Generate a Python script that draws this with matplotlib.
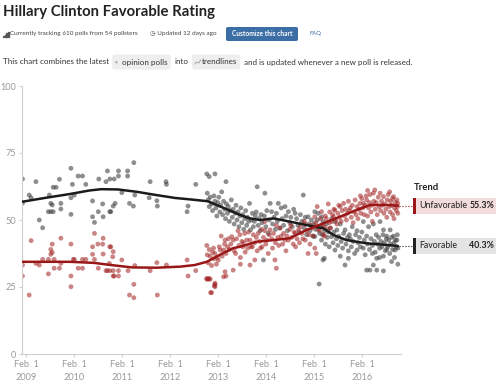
import matplotlib
matplotlib.use('Agg')
import matplotlib.pyplot as plt
import matplotlib.transforms as mtransforms
from matplotlib.patches import Rectangle, FancyBboxPatch
from matplotlib.lines import Line2D

plt.rcParams['font.family'] = ['Lato', 'DejaVu Sans']

# ---- data (decimal years, percent) ----
years = [2009, 2010, 2011, 2012, 2013, 2014, 2015, 2016]
tick_labels = ['Feb. 1\n%d' % y for y in years]
y_ticks = [0, 25, 50, 75, 100]

fav_trend = [(2009.0, 56.8), (2009.5, 58.3), (2010.0, 59.7), (2010.4, 61.0), (2010.65, 61.5),
             (2011.0, 61.4), (2011.4, 60.5), (2011.8, 59.3), (2012.2, 58.2), (2012.5, 57.7),
             (2012.87, 57.0), (2013.0, 56.0), (2013.2, 54.5), (2013.4, 53.0), (2013.54, 51.9),
             (2013.75, 50.6), (2013.96, 50.0), (2014.24, 50.6), (2014.58, 49.4), (2014.93, 48.1),
             (2015.28, 46.9), (2015.49, 44.4), (2015.76, 42.5), (2015.97, 41.9), (2016.18, 41.3),
             (2016.46, 40.9), (2016.83, 40.3)]
unfav_trend = [(2009.0, 34.4), (2009.5, 34.4), (2010.0, 34.4), (2010.5, 34.0), (2010.85, 33.2),
               (2011.3, 32.3), (2011.8, 32.2), (2012.3, 32.6), (2012.6, 33.2), (2012.85, 34.4),
               (2013.12, 37.0), (2013.4, 39.5), (2013.54, 40.0), (2013.89, 41.9), (2014.24, 42.5),
               (2014.58, 43.2), (2014.93, 46.3), (2015.28, 48.8), (2015.62, 51.2), (2015.97, 53.7),
               (2016.25, 55.6), (2016.67, 55.6), (2016.83, 55.3)]

fav_polls_early = [
    (2009.01, 65.3), (2009.29, 64.3), (2009.15, 59.3), (2009.19, 58.3), (2009.01, 56.3), (2009.36, 50.0),
    (2009.43, 47.1), (2009.57, 59.3), (2009.65, 62.2), (2009.71, 62.2), (2009.78, 65.2), (2009.6, 56.2),
    (2009.63, 55.6), (2009.55, 53.1), (2009.6, 53.1), (2009.65, 53.1), (2009.81, 56.2), (2009.81, 54.1),
    (2010.02, 69.3), (2010.05, 63.3), (2010.02, 58.3), (2010.09, 59.3), (2010.02, 52.1), (2010.17, 66.4),
    (2010.26, 66.4), (2010.33, 63.3), (2010.47, 57.1), (2010.47, 51.2), (2010.51, 49.1), (2010.59, 53.1),
    (2010.6, 65.3), (2010.68, 56.0), (2010.69, 51.2), (2010.78, 68.3), (2010.75, 64.3), (2010.83, 65.3),
    (2010.92, 65.3), (2010.83, 53.1), (2010.94, 56.2), (2011.01, 68.3), (2011.01, 66.4), (2011.2, 68.3),
    (2011.2, 66.4), (2011.33, 71.4), (2011.08, 60.2), (2011.35, 59.3), (2011.24, 56.2), (2011.32, 55.2),
    (2010.9, 55.2), (2010.85, 53.1), (2011.67, 64.3), (2011.65, 58.3), (2011.81, 57.2), (2011.82, 55.2),
    (2012.01, 63.3), (2012.0, 64.3), (2012.46, 55.2), (2012.44, 53.1), (2012.62, 63.3)]
fav_polls_2013_2014 = [
    (2012.85, 67.2), (2012.9, 66.2), (2013.02, 67.2), (2013.25, 64.3),
    (2012.86, 60.0), (2012.88, 57.5), (2012.9, 55.0), (2012.92, 58.5), (2012.95, 56.0), (2012.97, 53.5),
    (2013.0, 59.0), (2013.02, 57.0), (2013.04, 54.5), (2013.06, 51.5), (2013.08, 56.5), (2013.1, 58.5),
    (2013.12, 53.0), (2013.14, 55.5), (2013.16, 60.5), (2013.18, 52.0), (2013.2, 57.0), (2013.22, 54.0),
    (2013.24, 50.5), (2013.26, 56.0), (2013.28, 52.5), (2013.3, 55.0), (2013.32, 49.5), (2013.34, 53.5),
    (2013.36, 57.5), (2013.38, 51.0), (2013.4, 54.0), (2013.42, 48.5), (2013.44, 52.5), (2013.46, 55.5),
    (2013.48, 50.0), (2013.5, 53.0), (2013.52, 47.5), (2013.54, 51.5), (2013.56, 54.5), (2013.58, 49.0),
    (2013.6, 52.0), (2013.62, 46.5), (2013.64, 50.5), (2013.66, 53.5), (2013.68, 48.0), (2013.7, 51.0),
    (2013.72, 49.5), (2013.74, 56.2), (2013.76, 46.3), (2013.78, 50.0), (2013.8, 52.5), (2013.82, 47.5),
    (2013.84, 49.5), (2013.86, 51.5), (2013.88, 53.0), (2013.9, 62.4), (2013.92, 48.0), (2013.94, 50.5),
    (2013.96, 46.0), (2013.98, 52.0), (2014.0, 49.0),
    (2014.03, 35.1), (2014.05, 51.5), (2014.06, 60.0), (2014.08, 47.5), (2014.1, 53.5), (2014.13, 45.0),
    (2014.15, 50.0), (2014.17, 56.2), (2014.2, 53.1), (2014.22, 48.5), (2014.25, 51.0), (2014.28, 46.5),
    (2014.3, 52.5), (2014.32, 49.5), (2014.34, 56.2), (2014.37, 47.0), (2014.4, 54.5), (2014.42, 50.5),
    (2014.45, 48.0), (2014.48, 55.0), (2014.5, 51.5), (2014.53, 46.0), (2014.55, 53.1), (2014.58, 49.0),
    (2014.6, 51.0), (2014.63, 47.5), (2014.66, 54.0), (2014.69, 52.5), (2014.72, 50.5), (2014.75, 48.0),
    (2014.78, 45.5), (2014.8, 52.0), (2014.83, 49.5), (2014.86, 59.3), (2014.88, 47.0), (2014.9, 51.0),
    (2014.93, 44.5), (2014.96, 51.2), (2014.98, 48.5)]
fav_polls_2015_2016 = [
    (2015.0, 46.0), (2015.03, 50.0), (2015.06, 44.0), (2015.08, 48.5), (2015.1, 53.1), (2015.1, 43.8),
    (2015.12, 46.5), (2015.15, 50.0), (2015.17, 52.5), (2015.19, 26.1), (2015.2, 45.0), (2015.22, 47.5),
    (2015.24, 42.5), (2015.24, 51.2), (2015.26, 44.5), (2015.27, 49.4), (2015.27, 35.1), (2015.3, 35.7),
    (2015.3, 46.0), (2015.32, 41.0), (2015.34, 48.5), (2015.36, 43.5), (2015.38, 45.5), (2015.4, 40.0),
    (2015.42, 47.0), (2015.45, 50.5), (2015.45, 43.8), (2015.48, 41.5),
    (2015.5, 45.5), (2015.52, 49.4), (2015.52, 38.8), (2015.55, 43.0), (2015.56, 46.3), (2015.58, 40.5),
    (2015.6, 44.0), (2015.63, 48.5), (2015.63, 36.5), (2015.65, 42.0), (2015.68, 39.5), (2015.7, 45.0),
    (2015.73, 46.3), (2015.73, 33.2), (2015.75, 41.0), (2015.78, 43.5), (2015.8, 35.7), (2015.8, 38.5),
    (2015.82, 44.5), (2015.84, 43.0), (2015.86, 40.0), (2015.88, 47.5), (2015.9, 42.0), (2015.93, 37.5),
    (2015.95, 44.5), (2015.98, 46.0), (2015.98, 38.8), (2016.0, 41.5), (2016.03, 43.5), (2016.05, 40.0),
    (2016.08, 45.5), (2016.11, 49.4), (2016.11, 39.5), (2016.13, 42.5), (2016.15, 37.0), (2016.18, 31.3),
    (2016.18, 44.0), (2016.2, 41.0), (2016.22, 47.5), (2016.24, 39.0), (2016.25, 31.3), (2016.27, 43.0),
    (2016.3, 40.5), (2016.32, 48.5), (2016.32, 33.2), (2016.34, 42.0), (2016.36, 38.0), (2016.38, 44.5),
    (2016.39, 35.7), (2016.39, 31.3), (2016.41, 41.0), (2016.43, 43.5), (2016.45, 39.5), (2016.46, 49.4),
    (2016.48, 42.0), (2016.5, 40.0), (2016.52, 44.5), (2016.53, 46.3), (2016.53, 36.5), (2016.53, 31.0),
    (2016.55, 41.5), (2016.57, 38.5), (2016.59, 43.0), (2016.6, 44.0), (2016.62, 40.0), (2016.64, 42.5),
    (2016.66, 37.5), (2016.67, 46.3), (2016.68, 41.0), (2016.7, 43.5), (2016.72, 39.0), (2016.74, 44.0),
    (2016.75, 41.5), (2016.77, 38.8), (2016.78, 42.5), (2016.8, 40.0), (2016.81, 42.5), (2016.82, 44.5),
    (2016.83, 39.5), (2016.83, 33.5), (2016.76, 36.0), (2016.7, 34.5), (2016.6, 39.0), (2016.45, 36.0),
    (2016.3, 37.5)]

unfav_polls_early = [
    (2009.01, 33.2), (2009.01, 29.1), (2009.15, 22.0), (2009.19, 42.3), (2009.29, 33.8), (2009.36, 33.2),
    (2009.43, 35.3), (2009.55, 35.3), (2009.55, 29.9), (2009.6, 39.0), (2009.63, 37.9), (2009.6, 37.2),
    (2009.63, 41.0), (2009.67, 35.3), (2009.67, 32.0), (2009.78, 32.0), (2009.81, 43.2), (2009.81, 33.8),
    (2010.02, 41.0), (2010.02, 29.1), (2010.02, 25.1), (2010.07, 35.3), (2010.09, 35.3), (2010.17, 32.0),
    (2010.26, 35.3), (2010.26, 32.0), (2010.33, 35.3), (2010.47, 40.0), (2010.47, 37.2), (2010.51, 35.3),
    (2010.51, 45.0), (2010.58, 41.0), (2010.59, 32.0), (2010.69, 43.2), (2010.68, 41.0), (2010.69, 37.3),
    (2010.75, 31.1), (2010.78, 31.1), (2010.82, 33.8), (2010.83, 40.0), (2010.89, 36.3), (2010.92, 29.1),
    (2010.85, 40.0), (2010.9, 38.2), (2011.08, 35.1), (2010.83, 31.1), (2010.9, 31.1), (2011.01, 31.1),
    (2010.9, 29.1), (2011.01, 29.1), (2011.21, 31.1), (2011.35, 33.0), (2011.33, 26.0), (2011.24, 22.0),
    (2011.33, 21.0), (2011.67, 31.1), (2011.81, 34.1), (2011.82, 22.0), (2012.01, 33.2), (2012.44, 35.1),
    (2012.46, 29.1), (2012.62, 31.1), (2012.85, 27.9), (2012.88, 27.9), (2012.92, 27.9), (2012.93, 22.9),
    (2013.01, 25.4), (2013.02, 26.0), (2013.25, 29.1)]
unfav_polls_2013_2014 = [
    (2012.85, 40.5), (2012.86, 37.0), (2012.88, 34.0), (2012.9, 39.0), (2012.92, 36.5), (2012.95, 33.0),
    (2012.97, 38.0), (2012.99, 39.5), (2013.0, 35.5), (2013.02, 37.5), (2013.05, 33.5), (2013.07, 36.0),
    (2013.09, 35.0), (2013.11, 40.0), (2013.13, 38.8), (2013.15, 44.0), (2013.17, 36.5), (2013.2, 38.8),
    (2013.22, 41.0), (2013.23, 42.5), (2013.25, 37.5), (2013.28, 40.0), (2013.3, 43.0), (2013.32, 39.0),
    (2013.35, 41.0), (2013.37, 43.8), (2013.4, 42.5), (2013.42, 38.5), (2013.45, 37.5), (2013.47, 43.0),
    (2013.5, 46.0), (2013.52, 40.5), (2013.54, 44.5), (2013.55, 36.0), (2013.58, 42.0), (2013.6, 40.0),
    (2013.61, 41.5), (2013.64, 45.0), (2013.65, 38.0), (2013.68, 42.5), (2013.7, 39.5), (2013.72, 45.5),
    (2013.75, 42.5), (2013.77, 40.0), (2013.8, 40.0), (2013.82, 44.5), (2013.85, 41.5), (2013.88, 43.5),
    (2013.9, 38.5), (2013.92, 45.0), (2013.95, 42.0), (2013.97, 39.5), (2013.99, 46.5),
    (2012.85, 28.2), (2012.9, 28.2), (2013.02, 26.4), (2013.02, 25.1), (2012.95, 22.9), (2013.23, 30.7),
    (2013.2, 28.8), (2013.4, 31.3), (2013.75, 33.2), (2013.85, 35.1), (2013.55, 33.5),
    (2014.0, 40.0), (2014.03, 43.5), (2014.06, 49.4), (2014.06, 46.0), (2014.08, 41.0), (2014.1, 42.5),
    (2014.13, 37.5), (2014.15, 44.5), (2014.17, 46.3), (2014.2, 43.0), (2014.22, 39.5), (2014.24, 45.0),
    (2014.27, 35.1), (2014.28, 41.5), (2014.3, 48.0), (2014.3, 32.0), (2014.33, 43.5), (2014.35, 40.5),
    (2014.38, 47.0), (2014.4, 44.0), (2014.43, 41.0), (2014.45, 45.0), (2014.48, 42.5), (2014.5, 38.5),
    (2014.52, 44.0), (2014.55, 42.5), (2014.58, 46.5), (2014.6, 48.0), (2014.62, 43.5), (2014.65, 41.0),
    (2014.67, 45.5), (2014.69, 45.0), (2014.7, 40.0), (2014.73, 43.0), (2014.76, 46.3), (2014.78, 41.5),
    (2014.8, 47.5), (2014.83, 45.0), (2014.85, 43.0), (2014.88, 49.5), (2014.9, 42.5), (2014.9, 48.5),
    (2014.93, 46.0), (2014.96, 37.5), (2014.98, 44.5)]
unfav_polls_2015_2016 = [
    (2015.0, 41.0), (2015.02, 48.0), (2015.05, 47.0), (2015.07, 44.0), (2015.1, 39.5), (2015.1, 51.2),
    (2015.12, 49.0), (2015.13, 37.5), (2015.15, 55.0), (2015.17, 46.5), (2015.2, 46.0), (2015.22, 50.5),
    (2015.24, 53.1), (2015.26, 48.0), (2015.28, 44.5), (2015.3, 47.5), (2015.3, 44.0), (2015.32, 51.5),
    (2015.34, 50.5), (2015.36, 46.5), (2015.38, 56.0), (2015.4, 49.0), (2015.41, 53.0), (2015.43, 47.0),
    (2015.45, 49.4), (2015.47, 52.0), (2015.49, 51.2),
    (2015.5, 54.0), (2015.52, 53.7), (2015.54, 50.0), (2015.56, 48.5), (2015.58, 52.5), (2015.6, 55.5),
    (2015.62, 51.0), (2015.63, 55.0), (2015.65, 49.5), (2015.67, 53.5), (2015.7, 56.2), (2015.72, 51.5),
    (2015.74, 54.0), (2015.76, 50.0), (2015.78, 52.5), (2015.8, 57.0), (2015.82, 53.5), (2015.84, 54.5),
    (2015.86, 51.0), (2015.88, 55.5), (2015.9, 49.0), (2015.92, 53.0), (2015.94, 57.5), (2015.96, 52.0),
    (2015.98, 55.0), (2016.0, 50.5), (2016.02, 54.0), (2016.04, 56.2), (2016.06, 52.5), (2016.08, 58.0),
    (2016.1, 54.5), (2016.11, 56.2), (2016.13, 52.0), (2016.15, 55.5), (2016.17, 59.0), (2016.18, 57.5),
    (2016.2, 51.5), (2016.22, 54.5), (2016.24, 56.5), (2016.25, 59.5), (2016.27, 53.0), (2016.29, 55.5),
    (2016.3, 49.5), (2016.32, 60.0), (2016.33, 57.0), (2016.35, 61.2), (2016.36, 54.0), (2016.38, 56.5),
    (2016.4, 52.0), (2016.42, 58.5), (2016.44, 55.0), (2016.46, 60.0), (2016.47, 53.5), (2016.49, 57.0),
    (2016.51, 55.5), (2016.53, 58.7), (2016.54, 52.5), (2016.56, 56.0), (2016.58, 54.0), (2016.6, 51.0),
    (2016.61, 57.5), (2016.63, 59.5), (2016.65, 55.0), (2016.67, 53.0), (2016.68, 57.0), (2016.7, 55.5),
    (2016.72, 58.0), (2016.74, 58.7), (2016.75, 50.5), (2016.76, 54.5), (2016.78, 56.5), (2016.8, 53.5),
    (2016.81, 57.5), (2016.82, 55.0), (2016.83, 56.2), (2016.83, 52.5), (2016.72, 52.0), (2016.66, 60.5),
    (2016.2, 61.0), (2016.05, 59.0)]

fav_latest = 40.3
unfav_latest = 55.3

GRAY = '#3c3c3c'
RED = '#a11f1f'
W, H = 500, 389


def fx(px):
    return px / W


def fy(py):
    return 1 - py / H


fig = plt.figure(figsize=(5, 3.89), dpi=100)
renderer = fig.canvas.get_renderer()


def fit(t, width):
    # shrink/grow a text so it spans the given pixel width
    w = t.get_window_extent(renderer).width
    t.set_fontsize(t.get_fontsize() * width / w)
    return t


# ---- header ----
fit(fig.text(fx(3), fy(12), 'Hillary Clinton Favorable Rating', fontsize=12,
             weight='bold', color='#222222', va='center'), 210)

# small bar icon
for i, h in enumerate([1.5, 2.5, 3.5, 5]):
    fig.patches.append(Rectangle((fx(3 + i * 1.6), fy(37)), fx(1.1), h / H,
                                 transform=fig.transFigure, color='#555555'))
fit(fig.text(fx(10), fy(34), 'Currently tracking 610 polls from 54 pollsters', fontsize=5,
             color='#444444', va='center'), 130)
fit(fig.text(fx(150), fy(34), '\u25f7 Updated 12 days ago', fontsize=5, color='#444444',
             va='center'), 67)
fig.patches.append(FancyBboxPatch((fx(226), fy(41)), fx(72), 14 / H,
                                  boxstyle='round,pad=0,rounding_size=0.004',
                                  transform=fig.transFigure, fc='#3b6ea5', ec='none'))
fit(fig.text(fx(262), fy(34), 'Customize this chart', fontsize=5, color='white', weight='bold',
             ha='center', va='center'), 61)
fit(fig.text(fx(309), fy(34), 'FAQ', fontsize=5, color='#3b6ea5', va='center'), 12)

# description line with two highlighted chips
fs = 5.8
x = 1
ypx = 62
pieces = [('This chart combines the latest', None), ('opinion polls', 'dot'), ('into', None),
          ('trendlines', 'line'), ('and is updated whenever a new poll is released.', None)]
for text, chip in pieces:
    if chip is None:
        t = fig.text(fx(x + 2), fy(ypx), text, fontsize=fs, color='#333333', va='center')
        x += t.get_window_extent(renderer).width + 5
    else:
        start = x
        if chip == 'dot':
            fig.text(fx(x + 3), fy(ypx), '\u25cf', fontsize=3.5, color='#aaaaaa', va='center')
        else:
            fig.lines.append(Line2D([fx(x + 3), fx(x + 5), fx(x + 7), fx(x + 9)],
                                    [fy(ypx + 2), fy(ypx), fy(ypx + 1), fy(ypx - 2)],
                                    transform=fig.transFigure, color='#aaaaaa', lw=0.7))
        t = fig.text(fx(x + 10), fy(ypx), text, fontsize=fs, color='#333333', va='center')
        tw = t.get_window_extent(renderer).width
        fig.patches.insert(0, FancyBboxPatch((fx(start), fy(ypx + 7.5)), fx(tw + 13), 15 / H,
                                             boxstyle='round,pad=0,rounding_size=0.006',
                                             transform=fig.transFigure, fc='#eeeeee', ec='none'))
        x = start + tw + 15

# ---- chart ----
ax = fig.add_axes([fx(22), fy(354), fx(401) - fx(22), fy(86) - fy(354)])
ax.set_xlim(2009.0, 2016.896)
ax.set_ylim(0, 100)
for s in ['top', 'right']:
    ax.spines[s].set_visible(False)
for s in ['left', 'bottom']:
    ax.spines[s].set_color('#d0d0d0')
    ax.spines[s].set_linewidth(0.8)
ax.set_yticks(y_ticks)
ax.set_xticks([y + 31 / 365 for y in years])
ax.set_xticklabels(tick_labels, linespacing=1.6)
ax.tick_params(axis='both', colors='#d0d0d0', labelcolor='#999999', labelsize=6.6, length=2.5,
               width=0.8, pad=1.5)

fav_all = fav_polls_early + fav_polls_2013_2014 + fav_polls_2015_2016
unfav_all = unfav_polls_early + unfav_polls_2013_2014 + unfav_polls_2015_2016
ax.scatter([p[0] for p in fav_all], [p[1] for p in fav_all], s=12, color=GRAY, alpha=0.58,
           edgecolors='none', zorder=2)
ax.scatter([p[0] for p in unfav_all], [p[1] for p in unfav_all], s=12, color=RED, alpha=0.55,
           edgecolors='none', zorder=2)
ax.plot([p[0] for p in fav_trend], [p[1] for p in fav_trend], color='#1b1b1b', lw=1.8, zorder=3,
        solid_capstyle='round')
ax.plot([p[0] for p in unfav_trend], [p[1] for p in unfav_trend], color='#9a1717', lw=1.8, zorder=3,
        solid_capstyle='round')

# ---- trend labels on the right ----
trans = mtransforms.blended_transform_factory(fig.transFigure, ax.transData)
fig.text(fx(414), fy(188), 'Trend', fontsize=6.8, weight='bold', color='#222222', va='center')
labels = [('Unfavorable', unfav_latest, '#9a1717', '#f3dcdc', 48),
          ('Favorable', fav_latest, '#222222', '#e4e4e4', 38)]
for name, val, dark, light, name_w in labels:
    ax.plot([2016.86, 2017.12], [val, val], ls=':', lw=0.8, color=dark, clip_on=False)
    ax.add_patch(Rectangle((fx(413), val - 2.9), fx(83), 5.8, transform=trans, fc=light,
                           ec='none', clip_on=False))
    ax.add_patch(Rectangle((fx(413), val - 2.9), fx(3), 5.8, transform=trans, fc=dark,
                           ec='none', clip_on=False))
    fit(ax.text(fx(419), val, name, transform=trans, fontsize=7, color='#222222', va='center'), name_w)
    fit(ax.text(fx(494), val, '%.1f%%' % val, transform=trans, fontsize=7, weight='bold',
                color='#222222', va='center', ha='right'), 25)

fig.savefig('out.png', dpi=100)
